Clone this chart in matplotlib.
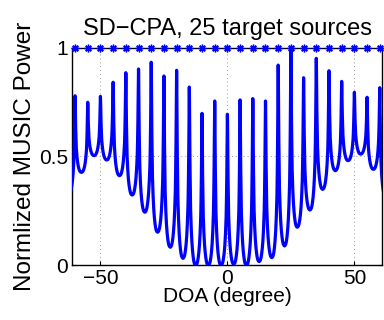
import numpy as np
import matplotlib
matplotlib.use("Agg")
import matplotlib.pyplot as plt

# ---- data ----
targets = np.arange(-60, 61, 5)          # 25 target DOAs (degree)
peaks = [0.779, 0.749, 0.776, 0.841, 0.885, 0.902, 0.933, 0.870, 0.896, 0.819,
         0.698, 0.755, 0.694, 0.760, 0.766, 0.755, 0.920, 1.000, 0.862, 0.951,
         0.894, 0.845, 0.795, 0.772, 0.816]
# minima between neighbouring peaks, plus one beyond each end (outside view)
valleys = [0.33,
           0.427, 0.504, 0.484, 0.412, 0.323, 0.244, 0.152, 0.083, 0.032, 0.000,
           0.000, 0.000, 0.005, 0.000, 0.017, 0.035, 0.089, 0.175, 0.254, 0.349,
           0.435, 0.481, 0.511, 0.441,
           0.31]
# lobe profile: fraction of half-spacing from peak -> relative height
prof_f = [0, 0.02, 0.05, 0.1, 0.15, 0.2, 0.3, 0.4, 0.5, 0.6, 0.7, 0.8, 0.9, 1.0]
prof_v = [1, 0.95, 0.80, 0.58, 0.43, 0.32, 0.21, 0.135, 0.085, 0.05, 0.025, 0.01, 0.003, 0]
target_level = 1.0

# ---- build spectrum from peaks / valleys ----
half = 2.5
pf = np.array(prof_f)
pv = np.array(prof_v)
xs, ys = [], []
for k, (t, p) in enumerate(zip(targets, peaks)):
    vl = valleys[k]
    vr = valleys[k + 1]
    xs.extend(t - half * pf[::-1])
    ys.extend(vl + (p - vl) * pv[::-1])
    xs.extend(t + half * pf[1:])
    ys.extend(vr + (p - vr) * pv[1:])
xs = np.array(xs)
ys = np.array(ys)

plt.rcParams['font.family'] = ['Liberation Sans', 'DejaVu Sans']
fig = plt.figure(figsize=(3.84, 3.20), dpi=100)
ax = fig.add_axes([0.1888, 0.1709, 0.8068, 0.6801])

ax.plot(xs, ys, color='#0000ff', lw=2.3, solid_joinstyle='round', zorder=3)
ax.plot(targets, [target_level] * len(targets), linestyle='none', marker=(8, 2, 0),
        color='#0000ff', ms=5.5, mew=1.0, clip_on=False, zorder=4)

ax.set_xlim(-61, 61)
ax.set_ylim(0, 1)
ax.set_xticks([-50, 0, 50])
ax.set_xticklabels(['\u221250', '0', '50'])
ax.set_yticks([0, 0.5, 1])
ax.set_yticklabels(['0', '0.5', '1'])
ax.grid(True, linestyle=(0, (1, 3)), color='#999999', lw=0.7)
ax.tick_params(direction='in', length=3, width=0.8, labelsize=15,
               top=True, right=True, pad=3)
for s in ax.spines.values():
    s.set_linewidth(1.0)

ax.set_title('SD\u2212CPA, 25 target sources', fontsize=17, pad=9)
ax.set_xlabel('DOA (degree)', fontsize=15, labelpad=-1)
ax.set_ylabel('Normlized MUSIC Power', fontsize=17.5, labelpad=2)

fig.savefig('out.png', dpi=100)
